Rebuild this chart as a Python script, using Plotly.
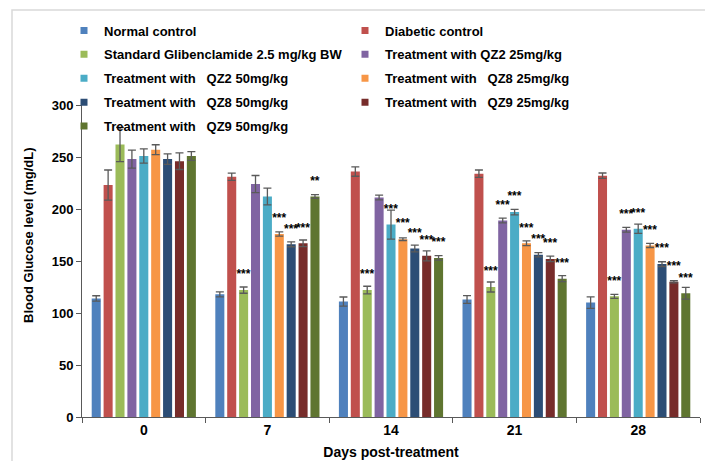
import plotly.graph_objects as go

# Sampling days
days = ["0", "7", "14", "21", "28"]

# Series names (legend text)
names = [
    "Normal control",
    "Diabetic control",
    "Standard Glibenclamide 2.5 mg/kg BW",
    "Treatment with QZ2 25mg/kg",
    "Treatment with \u00a0 QZ2 50mg/kg",
    "Treatment with \u00a0 QZ8 25mg/kg",
    "Treatment with \u00a0 QZ8 50mg/kg",
    "Treatment with \u00a0 QZ9 25mg/kg",
    "Treatment with \u00a0 QZ9 50mg/kg",
]

# Mean blood glucose (mg/dL) per group and day
normal_control = [114, 118, 111, 113, 110]
diabetic_control = [223, 231, 236, 234, 232]
glibenclamide = [262, 122, 122, 125, 116]
qz2_25 = [248, 224, 211, 189, 180]
qz2_50 = [251, 212, 185, 197, 181]
qz8_25 = [257, 176, 171, 167, 165]
qz8_50 = [248, 166, 162, 156, 147]
qz9_25 = [246, 167, 155, 152, 130]
qz9_50 = [251, 212, 153, 133, 119]

# Standard error of the mean
normal_control_err = [2.6, 2.4, 4.4, 3.7, 5.5]
diabetic_control_err = [14.5, 3.4, 4.5, 3.5, 2.6]
glibenclamide_err = [16.5, 3.0, 3.7, 4.8, 2.0]
qz2_25_err = [8.7, 8.2, 2.3, 2.3, 2.3]
qz2_50_err = [6.8, 8.0, 13.9, 2.6, 4.5]
qz8_25_err = [4.8, 2.0, 1.3, 2.3, 2.0]
qz8_50_err = [5.0, 2.3, 3.2, 2.0, 2.3]
qz9_25_err = [8.0, 3.2, 4.8, 2.6, 1.0]
qz9_50_err = [4.2, 1.8, 2.1, 2.9, 5.6]

# Significance markers versus diabetic control
normal_control_sig = ["", "", "", "", ""]
diabetic_control_sig = ["", "", "", "", ""]
glibenclamide_sig = ["", "***", "***", "***", "***"]
qz2_25_sig = ["", "", "", "***", "***"]
qz2_50_sig = ["", "", "***", "***", "***"]
qz8_25_sig = ["", "***", "***", "***", "***"]
qz8_50_sig = ["", "***", "***", "***", "***"]
qz9_25_sig = ["", "***", "***", "***", "***"]
qz9_50_sig = ["", "**", "***", "***", "***"]

values = [normal_control, diabetic_control, glibenclamide, qz2_25, qz2_50,
          qz8_25, qz8_50, qz9_25, qz9_50]
errors = [normal_control_err, diabetic_control_err, glibenclamide_err, qz2_25_err,
          qz2_50_err, qz8_25_err, qz8_50_err, qz9_25_err, qz9_50_err]
sigs = [normal_control_sig, diabetic_control_sig, glibenclamide_sig, qz2_25_sig,
        qz2_50_sig, qz8_25_sig, qz8_50_sig, qz9_25_sig, qz9_50_sig]

colors = ["#4F81BD", "#C0504D", "#9BBB59", "#8064A2", "#4BACC6",
          "#F79646", "#2C4D75", "#772C2A", "#5F7530"]

# legend column for each series (two-column legend)
legend_ref = ["legend", "legend2", "legend", "legend2", "legend",
              "legend2", "legend", "legend2", "legend"]

FONT = "Liberation Sans, Arial, sans-serif"
LABEL_LIFT = 4.5  # raise of the significance text above the bar top (data units)

fig = go.Figure()

for i, (name, vals, errs, col) in enumerate(zip(names, values, errors, colors)):
    fig.add_trace(go.Bar(
        x=days, y=vals, name=name,
        marker=dict(color=col, line=dict(width=0)),
        error_y=dict(type="data", array=errs, visible=True,
                     color="#5a5a5a", thickness=1.3, width=4),
        offsetgroup=str(i), legendgroup=name, showlegend=False,
    ))
    # small square key for the legend
    fig.add_trace(go.Scatter(
        x=[None], y=[None], mode="markers", name=name,
        marker=dict(symbol="square", size=7, color=col),
        legend=legend_ref[i], legendgroup=name, showlegend=True,
    ))

# transparent markers carrying the significance stars above each bar
for i, (vals, sig) in enumerate(zip(values, sigs)):
    fig.add_trace(go.Bar(
        x=days, y=[1] * len(vals), base=[v + LABEL_LIFT for v in vals],
        marker=dict(color="rgba(0,0,0,0)", line=dict(width=0)),
        text=sig, textposition="outside", constraintext="none",
        textfont=dict(family=FONT, size=12, color="black", weight="bold"),
        cliponaxis=False, offsetgroup=str(i), showlegend=False,
        hoverinfo="skip",
    ))

# plot area spans x 82..700 px and y 105..417 px
PX_L, PX_R, PX_T, PX_B = 82, 700, 105, 417
def px_x(p):
    return (p - PX_L) / (PX_R - PX_L)
def px_y(p):
    return (PX_B - p) / (PX_B - PX_T)

legend_common = dict(
    orientation="v", bgcolor="rgba(0,0,0,0)", borderwidth=0,
    font=dict(family=FONT, size=13, color="black", weight="bold"),
    tracegroupgap=4, xanchor="left", yanchor="top",
)

fig.update_layout(
    width=705, height=461, autosize=False,
    margin=dict(l=PX_L, r=705 - PX_R, t=PX_T, b=461 - PX_B),
    paper_bgcolor="white", plot_bgcolor="white",
    font=dict(family=FONT, color="black", weight="bold"),
    barmode="group", bargap=0.134, bargroupgap=0.24,
    legend=dict(x=px_x(64), y=px_y(15.5), **legend_common),
    legend2=dict(x=px_x(345), y=px_y(15.5), **legend_common),
    xaxis=dict(
        type="category", tickson="boundaries", ticks="outside", ticklen=5,
        tickcolor="#595959", showline=True, linecolor="#595959", linewidth=1,
        showgrid=False, automargin=False,
        tickfont=dict(family=FONT, size=14, weight="bold"),
        title=dict(text="Days post-treatment", standoff=10,
                   font=dict(family=FONT, size=14, weight="bold")),
    ),
    yaxis=dict(
        range=[0, 300], dtick=50, ticks="outside", ticklen=5,
        tickcolor="#595959", showline=True, linecolor="#595959", linewidth=1,
        showgrid=False, zeroline=False, automargin=False,
        tickfont=dict(family=FONT, size=13, weight="bold"),
    ),
    annotations=[dict(
        text="Blood Glucose level (mg/dL)", textangle=-90,
        xref="paper", yref="paper", x=px_x(28), y=px_y(235),
        xanchor="center", yanchor="middle", showarrow=False,
        font=dict(family=FONT, size=13, color="black", weight="bold"),
    )],
    shapes=[dict(
        type="rect", xref="paper", yref="paper",
        x0=px_x(12), x1=px_x(730), y0=px_y(490), y1=px_y(10),
        line=dict(color="#d9d9d9", width=1.5), fillcolor="rgba(0,0,0,0)",
        layer="below",
    )],
)

fig.write_html("out.html")
